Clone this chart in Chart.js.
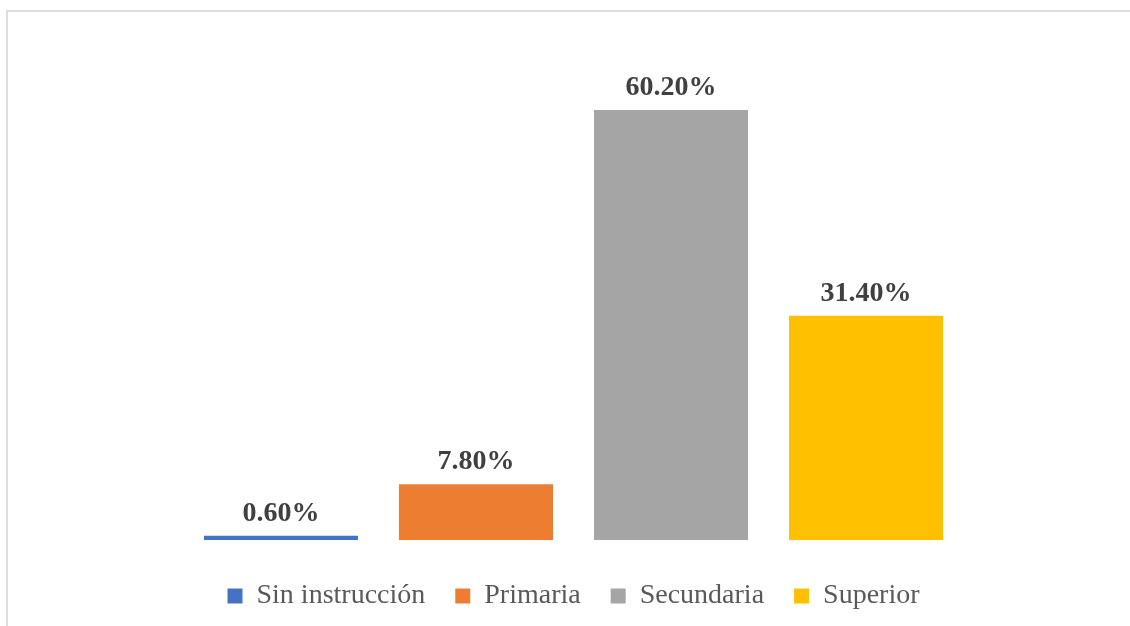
<!DOCTYPE html>
<html>
<head>
<meta charset="utf-8">
<script src="https://cdn.jsdelivr.net/npm/chart.js@4"></script>
<style>
  html, body { margin: 0; padding: 0; overflow: hidden; background: #fff; }
  #marco { position: absolute; left: 6px; top: 10px; width: 1200px; height: 700px; border: 2px solid #dedede; }
  #grafico { position: absolute; left: 0; top: 0; }
</style>
</head>
<body>
<div id="marco"></div>
<canvas id="grafico" width="1130" height="630"></canvas>
<script>
// datos del grafico
const niveles = ['Sin instrucción', 'Primaria', 'Secundaria', 'Superior'];
const porcentajes = [0.6, 7.8, 60.2, 31.4];
const colores = ['#4472C4', '#ED7D31', '#A5A5A5', '#FFC000'];

// etiquetas encima de cada barra
const etiquetas = {
    id: 'etiquetas',
    afterDatasetsDraw(chart) {
        const ctx = chart.ctx;
        ctx.save();
        ctx.font = 'bold 28px "Liberation Serif", "Times New Roman", serif';
        ctx.fillStyle = '#404040';
        ctx.textAlign = 'center';
        ctx.textBaseline = 'alphabetic';
        chart.data.datasets.forEach((ds, i) => {
            const bar = chart.getDatasetMeta(i).data[0];
            ctx.fillText(ds.data[0].toFixed(2) + '%', bar.x, bar.y - 15);
        });
        ctx.restore();
    }
};

const grafico = new Chart(document.getElementById('grafico'), {
    type: 'bar',
    data: {
        labels: [''],
        datasets: niveles.map((n, i) => ({
            label: n,
            data: [porcentajes[i]],
            backgroundColor: colores[i],
            barPercentage: 0.79,
            categoryPercentage: 0.921
        }))
    },
    options: {
        responsive: false,
        animation: false,
        layout: {
            padding: { left: 150, right: 133, top: 40, bottom: 10 }
        },
        scales: {
            x: {
                display: true,
                grid: { display: false },
                border: { display: false },
                ticks: { display: false },
                afterFit(scale) { scale.height = 12; }
            },
            y: {
                display: false,
                min: 0,
                max: 70
            }
        },
        plugins: {
            tooltip: { enabled: false },
            legend: {
                position: 'bottom',
                labels: {
                    boxWidth: 15,
                    boxHeight: 15,
                    padding: 30,
                    color: '#595959',
                    font: { family: '"Liberation Serif", "Times New Roman", serif', size: 28 }
                }
            }
        }
    },
    plugins: [etiquetas]
});
</script>
</body>
</html>
